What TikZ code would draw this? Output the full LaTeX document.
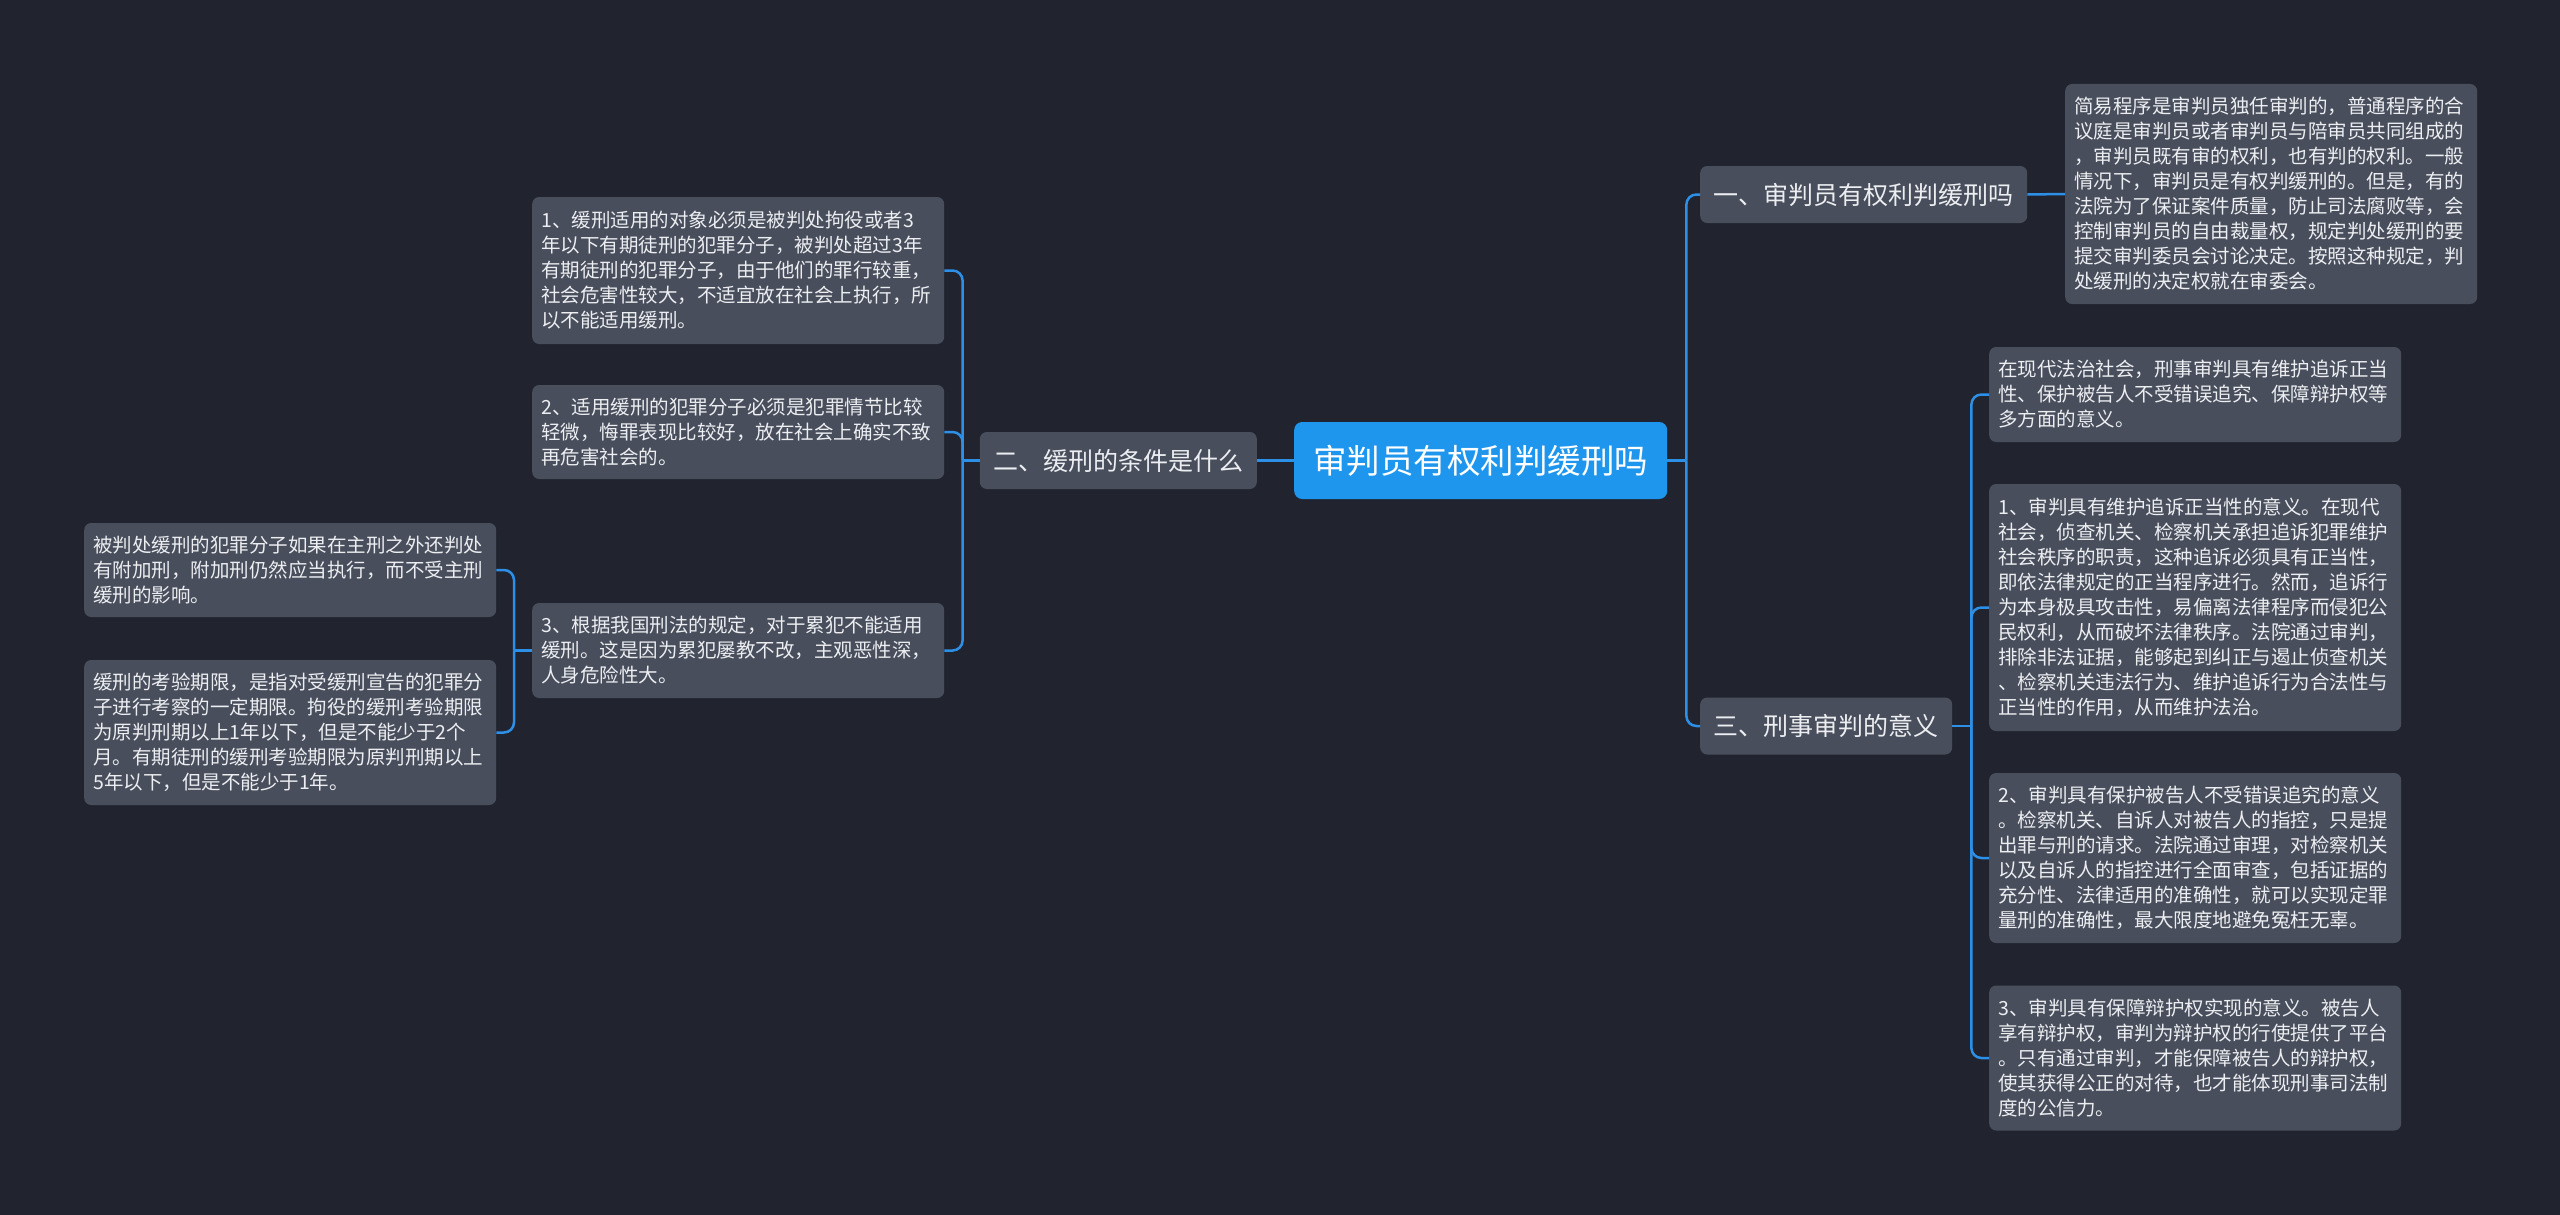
\documentclass[tikz,border=0pt]{standalone}
\usepackage{fontspec}
\newfontfamily\cjk{Noto Sans CJK SC}
\definecolor{bgc}{HTML}{21242E}
\definecolor{boxc}{HTML}{484E5C}
\definecolor{rootc}{HTML}{1F96EE}
\definecolor{linec}{HTML}{2E8FE6}
\definecolor{txtc}{HTML}{ECEEF1}
\tikzset{
  leaf/.style={rectangle, rounded corners=7pt, fill=boxc, text=txtc,
    font=\cjk\fontsize{19.5pt}{25pt}\selectfont, align=left,
    text width=394pt, inner xsep=9pt, inner ysep=3pt, anchor=west},
  lvone/.style={rectangle, rounded corners=7pt, fill=boxc, text=txtc,
    font=\cjk\fontsize{25pt}{30pt}\selectfont,
    inner xsep=13.5pt, inner ysep=3pt, minimum height=57pt},
  rootbox/.style={rectangle, rounded corners=8pt, fill=rootc, text=white,
    font=\cjk\fontsize{33.5pt}{38pt}\selectfont,
    inner xsep=19pt, inner ysep=3pt, minimum height=77pt},
  conn/.style={draw=linec, line width=2.5pt, rounded corners=10pt}
}
\begin{document}
\begin{tikzpicture}[x=1pt,y=-1pt]
\fill[bgc] (0,0) rectangle (2560,1215);
\useasboundingbox (0,0) rectangle (2560,1215);

\node[rootbox, anchor=west] (root) at (1294,460.5) {审判员有权利判缓刑吗};

\node[lvone, anchor=west] (n1) at (1700,194.5) {一、审判员有权利判缓刑吗};
\node[lvone, anchor=west] (n3) at (1700,726) {三、刑事审判的意义};
\node[lvone, anchor=east] (n2) at (1257,460.5) {二、缓刑的条件是什么};

\node[leaf, minimum height=220pt] (A) at (2065,194) {简易程序是审判员独任审判的，普通程序的合\\议庭是审判员或者审判员与陪审员共同组成的\\，审判员既有审的权利，也有判的权利。一般\\情况下，审判员是有权判缓刑的。但是，有的\\法院为了保证案件质量，防止司法腐败等，会\\控制审判员的自由裁量权，规定判处缓刑的要\\提交审判委员会讨论决定。按照这种规定，判\\处缓刑的决定权就在审委会。};

\node[leaf, minimum height=95pt] (B) at (1989,394.5) {在现代法治社会，刑事审判具有维护追诉正当\\性、保护被告人不受错误追究、保障辩护权等\\多方面的意义。};

\node[leaf, minimum height=247pt] (C) at (1989,607.5) {1、审判具有维护追诉正当性的意义。在现代\\社会，侦查机关、检察机关承担追诉犯罪维护\\社会秩序的职责，这种追诉必须具有正当性，\\即依法律规定的正当程序进行。然而，追诉行\\为本身极具攻击性，易偏离法律程序而侵犯公\\民权利，从而破坏法律秩序。法院通过审判，\\排除非法证据，能够起到纠正与遏止侦查机关\\、检察机关违法行为、维护追诉行为合法性与\\正当性的作用，从而维护法治。};

\node[leaf, minimum height=170pt] (D) at (1989,858) {2、审判具有保护被告人不受错误追究的意义\\。检察机关、自诉人对被告人的指控，只是提\\出罪与刑的请求。法院通过审理，对检察机关\\以及自诉人的指控进行全面审查，包括证据的\\充分性、法律适用的准确性，就可以实现定罪\\量刑的准确性，最大限度地避免冤枉无辜。};

\node[leaf, minimum height=145pt] (E) at (1989,1058) {3、审判具有保障辩护权实现的意义。被告人\\享有辩护权，审判为辩护权的行使提供了平台\\。只有通过审判，才能保障被告人的辩护权，\\使其获得公正的对待，也才能体现刑事司法制\\度的公信力。};

\node[leaf, minimum height=147pt] (L1) at (532,270.5) {1、缓刑适用的对象必须是被判处拘役或者3\\年以下有期徒刑的犯罪分子，被判处超过3年\\有期徒刑的犯罪分子，由于他们的罪行较重，\\社会危害性较大，不适宜放在社会上执行，所\\以不能适用缓刑。};

\node[leaf, minimum height=94pt] (L2) at (532,432) {2、适用缓刑的犯罪分子必须是犯罪情节比较\\轻微，悔罪表现比较好，放在社会上确实不致\\再危害社会的。};

\node[leaf, minimum height=95pt] (L3) at (532,650.5) {3、根据我国刑法的规定，对于累犯不能适用\\缓刑。这是因为累犯屡教不改，主观恶性深，\\人身危险性大。};

\node[leaf, minimum height=94pt] (LL1) at (84,570) {被判处缓刑的犯罪分子如果在主刑之外还判处\\有附加刑，附加刑仍然应当执行，而不受主刑\\缓刑的影响。};

\node[leaf, minimum height=145pt] (LL2) at (84,732.5) {缓刑的考验期限，是指对受缓刑宣告的犯罪分\\子进行考察的一定期限。拘役的缓刑考验期限\\为原判刑期以上1年以下，但是不能少于2个\\月。有期徒刑的缓刑考验期限为原判刑期以上\\5年以下，但是不能少于1年。};

% right connectors
\draw[conn] (root.east) -- ++(19,0) coordinate (jR);
\draw[conn] (jR) |- (n1.west);
\draw[conn] (jR) |- (n3.west);
\draw[conn] (n1.east) -- (A.west);
\draw[conn] (n3.east) -- ++(19,0) coordinate (j3);
\draw[conn] (j3) |- (B.west);
\draw[conn] (j3) |- (C.west);
\draw[conn] (j3) |- (D.west);
\draw[conn] (j3) |- (E.west);

% left connectors
\draw[conn] (root.west) -- (n2.east);
\draw[conn] (n2.west) -- ++(-17,0) coordinate (j2);
\draw[conn] (j2) |- (L1.east);
\draw[conn] (j2) |- (L2.east);
\draw[conn] (j2) |- (L3.east);
\draw[conn] (L3.west) -- ++(-18,0) coordinate (jL);
\draw[conn] (jL) |- (LL1.east);
\draw[conn] (jL) |- (LL2.east);
\end{tikzpicture}
\end{document}
